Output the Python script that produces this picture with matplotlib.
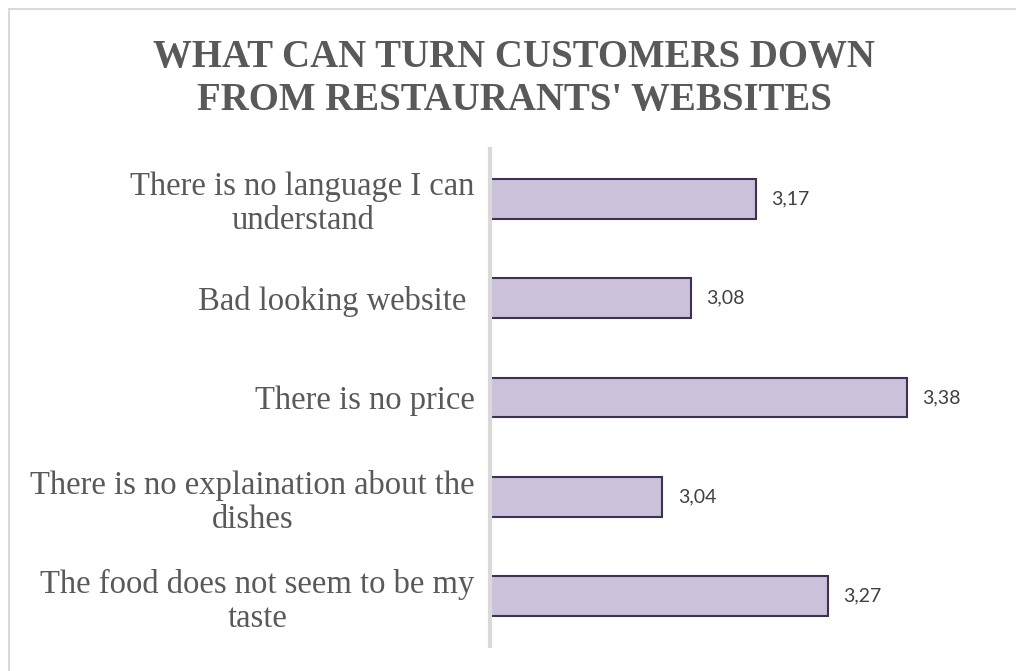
import matplotlib.pyplot as plt
from matplotlib.patches import Rectangle

# survey answers, top to bottom as shown on the chart
categories = ['There is no language I can\nunderstand',
              'Bad looking website ',
              'There is no price',
              'There is no explaination about the\ndishes',
              'The food does not seem to be my\ntaste']
scores = [3.17, 3.08, 3.38, 3.04, 3.27]
value_labels = ['3,17', '3,08', '3,38', '3,04', '3,27']

W, H = 1016, 671
fig = plt.figure(figsize=(W/100., H/100.), dpi=100)

# light frame around the chart area (runs off the right/bottom edge)
fig.patches.append(Rectangle((9./W, -0.2), 1.2, 1.2 - 9./H, transform=fig.transFigure,
                             fill=False, edgecolor='#d9d9d9', linewidth=1.5))

ax = fig.add_axes([490./W, 1 - 646./H, 502.8/W, 497./H])
pos = list(range(len(categories)))
ax.barh(pos, scores, height=0.4, left=0, color='#ccc1da',
        edgecolor='#3f3151', linewidth=1.5)
ax.set_xlim(2.8, 3.5)
ax.set_ylim(len(categories) - 0.5, -0.5)

for y, v, lab in zip(pos, scores, value_labels):
    ax.annotate(lab, (v, y), xytext=(11, 0), textcoords='offset points',
                va='center', ha='left', fontsize=14, family='Lato', color='#404040')

ax.set_yticks(pos)
ax.set_yticklabels(categories, family='Liberation Serif', fontsize=23.5,
                   color='#595959', multialignment='center', linespacing=1.15)
ax.tick_params(axis='y', length=0, pad=11)
ax.set_xticks([])
for s in ['top', 'right', 'bottom']:
    ax.spines[s].set_visible(False)
ax.spines['left'].set_color('#d9d9d9')
ax.spines['left'].set_linewidth(3)

fig.text(514./W, 1 - 79./H, "WHAT CAN TURN CUSTOMERS DOWN\nFROM RESTAURANTS' WEBSITES",
         ha='center', va='center', family='Liberation Serif', fontweight='bold',
         fontsize=28, color='#595959', linespacing=1.2)

plt.savefig('out.png', dpi=100)
